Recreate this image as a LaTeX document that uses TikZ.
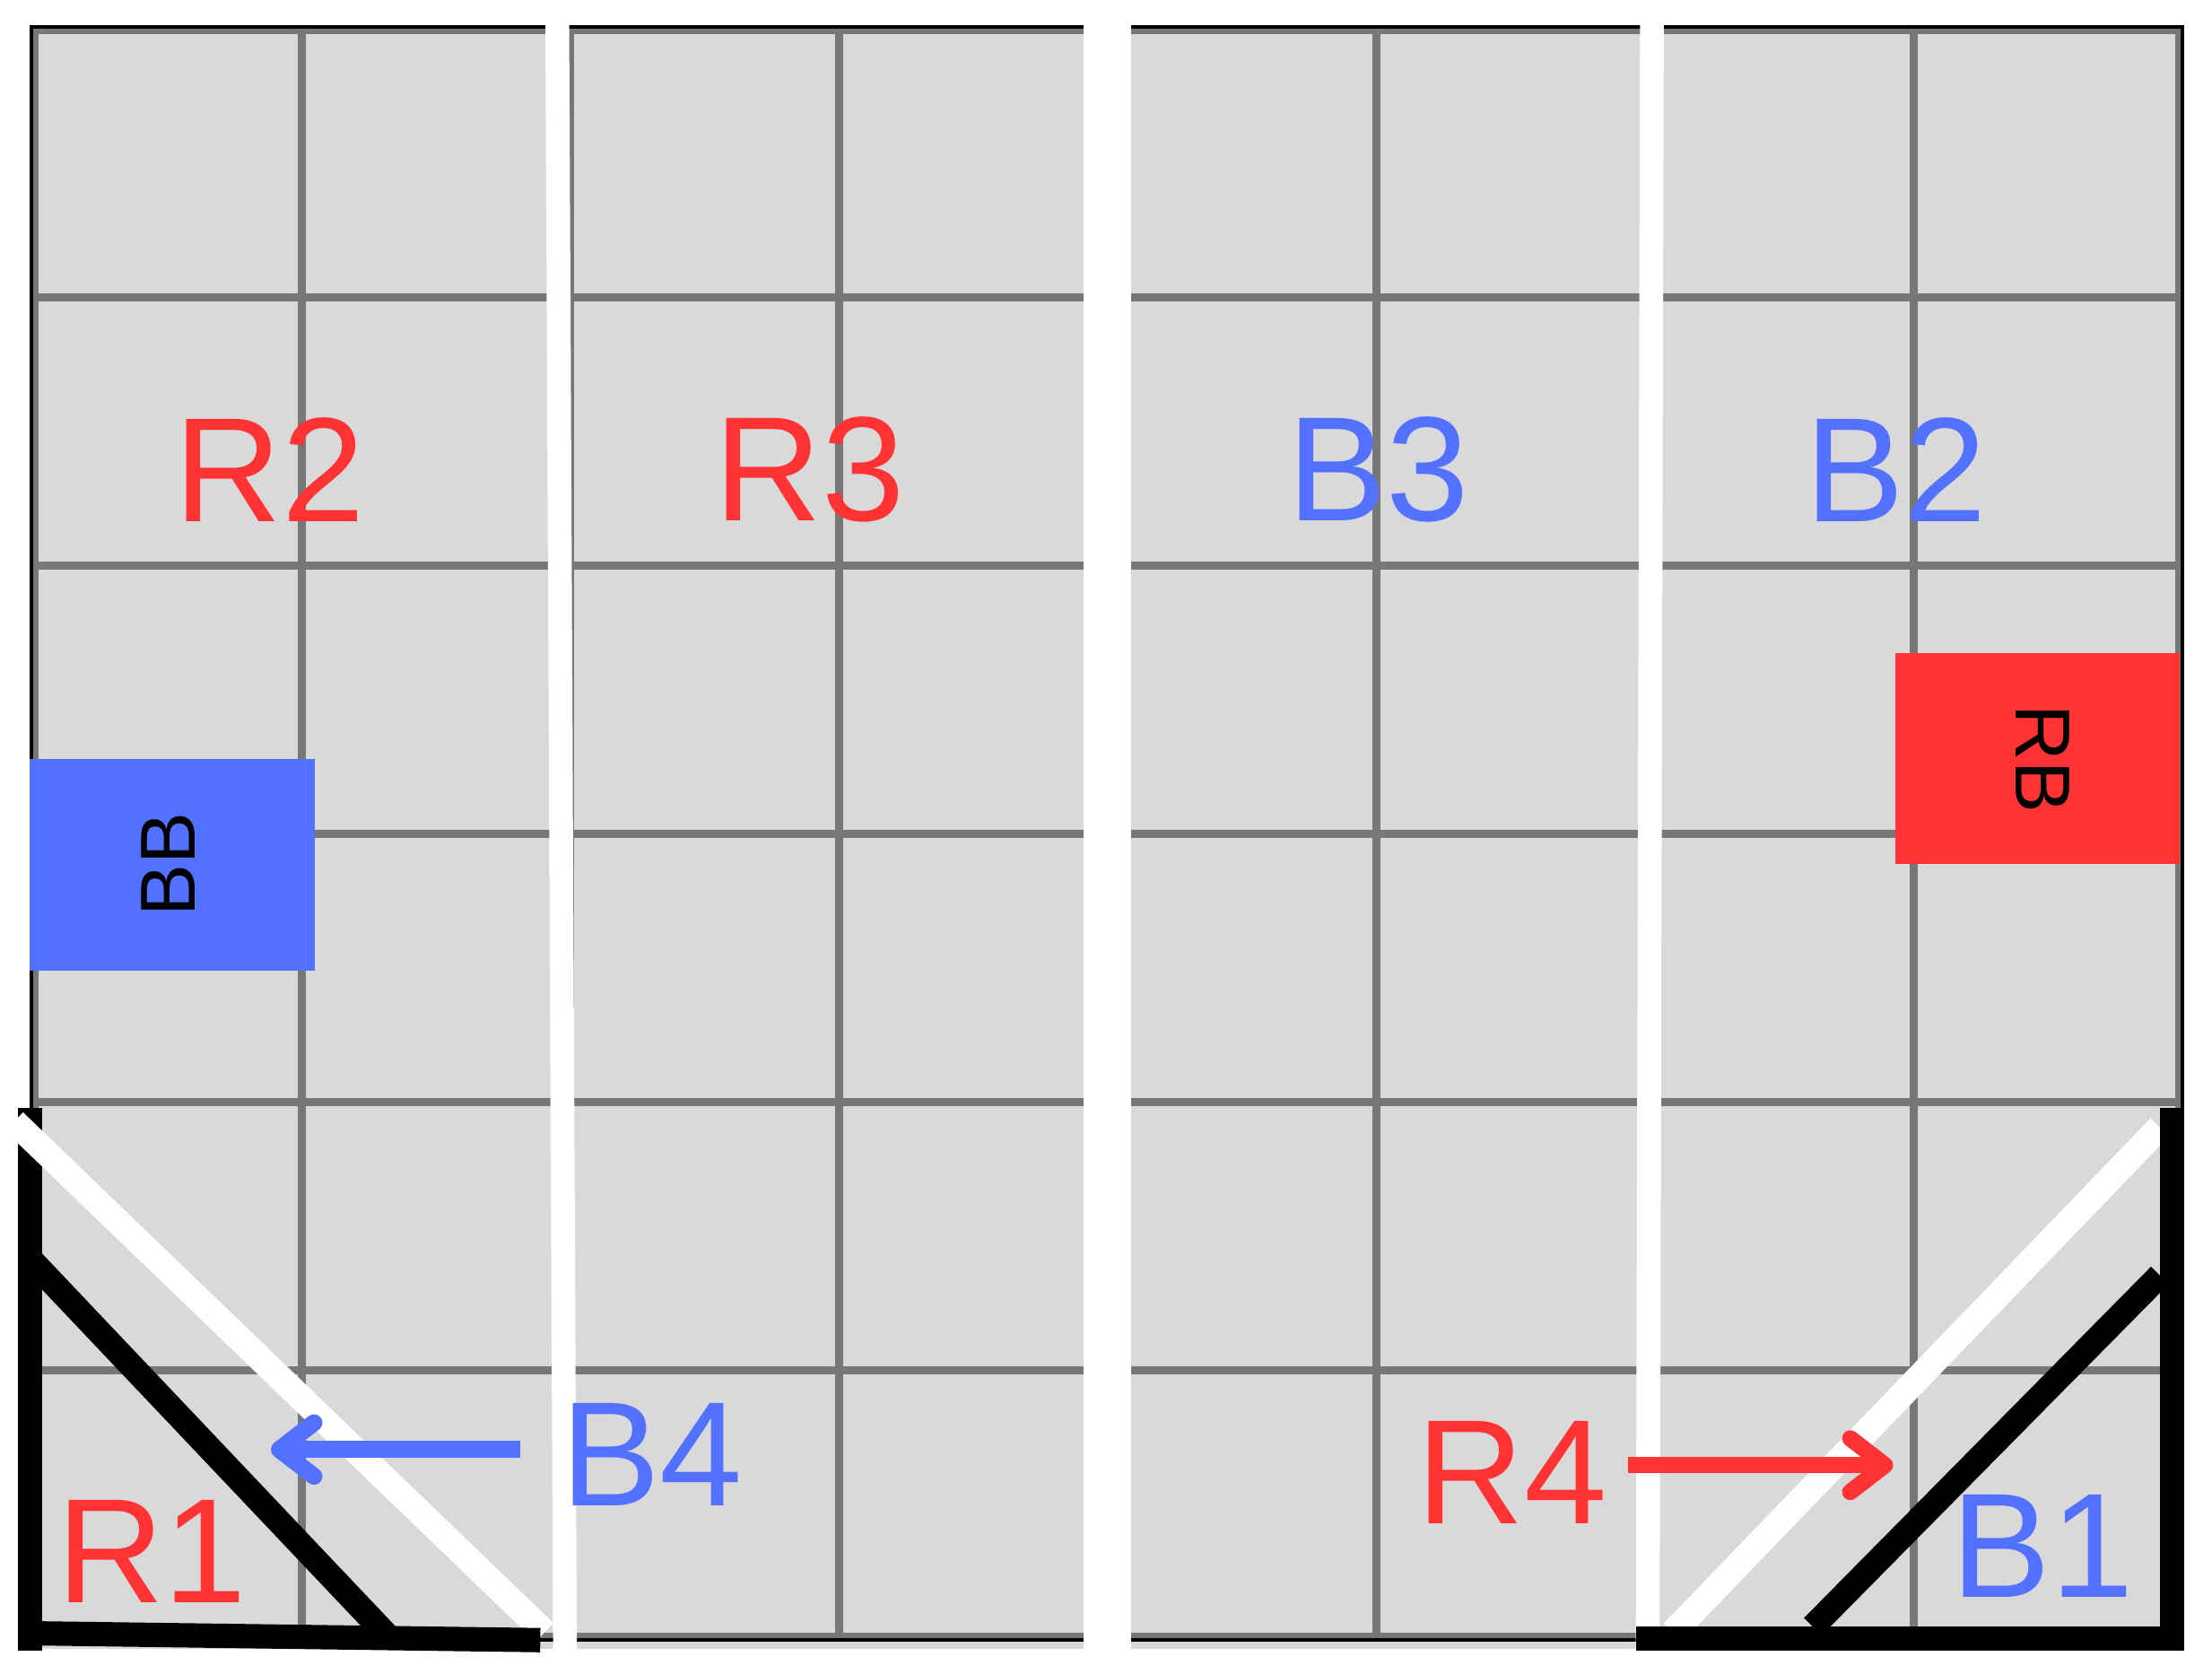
\documentclass[tikz,border=0pt]{standalone}
\usepackage{fontspec}
\setmainfont{Liberation Sans}
\usetikzlibrary{arrows.meta}
\definecolor{fieldgray}{HTML}{D9D9D9}
\definecolor{gridgray}{HTML}{777777}
\definecolor{myred}{HTML}{FF3333}
\definecolor{myblue}{HTML}{5271FF}
\begin{document}
\begin{tikzpicture}[x=0.01cm,y=-0.01cm,
  gridline/.style={draw=gridgray,line width=1.54pt},
  outline/.style={draw=black,line width=0.7pt},
  bigtxt/.style={font=\fontsize{30}{36}\selectfont,inner sep=0pt,anchor=center},
  redtxt/.style={bigtxt,text=myred},
  bluetxt/.style={bigtxt,text=myblue},
  boxnode/.style={draw=none,inner sep=0pt},
  boxtxt/.style={inner sep=0pt,font=\fontsize{15.7}{19}\selectfont,text=black},
  thickblack/.style={draw=black,line width=4.9pt},
  blackdiag/.style={draw=black,line width=5pt},
  whitediag/.style={draw=white,line width=5.2pt},
  whitebar/.style={draw=white,line width=4.8pt},
  gapbar/.style={draw=white,line width=9.6pt},
  tipstyle/.style={-{Straight Barb[length=7pt,width=10.8pt,line cap=round,line join=round]}},
  bluearrow/.style={draw=myblue,line width=3.4pt,tipstyle},
  redarrow/.style={draw=myred,line width=3.3pt,tipstyle}
]
\useasboundingbox (0,0) rectangle (1568,1186);
% field
\fill[fieldgray] (22,19) rectangle (1547,1169);
\foreach \x in {214.1,404.5,594.9,785.3,975.7,1166.1,1356.5} \draw[gridline] (\x,19) -- (\x,1162);
\foreach \y in {210.9,401,591.1,781.2,971.4} \draw[gridline] (22,\y) -- (1547,\y);
\draw[gridline] (24.6,21.6) rectangle (1544.4,1160.2);
\draw[outline] (22,19) rectangle (1547,1162.5);
% white separators
\draw[whitebar] (395,10) -- (400.5,1169);
\draw[gapbar] (785,10) -- (785,1172);
\draw[whitebar] (1171,10) -- (1168,1172);
% boxes
\node[boxnode,fill=myblue,minimum width=2.024cm,minimum height=1.5cm] (BB) at (122,613) {};
\node[boxtxt,rotate=90] (BBt) at (119,612.5) {BB};
\node[boxnode,fill=myred,minimum width=2.018cm,minimum height=1.498cm] (RB) at (1444.2,537.6) {};
\node[boxtxt,rotate=-90] (RBt) at (1448,538) {RB};
% left-bottom corner
\draw[thickblack] (21.2,785) -- (21.2,1170);
\draw[whitediag] (10,795) -- (386,1157);
\draw[thickblack] (13,1157.5) -- (383,1162.5);
\draw[blackdiag] (22,893) -- (278,1163);
% right-bottom corner
\draw[whitediag] (1186,1157) -- (1531,799);
\draw[thickblack] (1539.5,785) -- (1539.5,1170);
\draw[thickblack] (1160,1161.5) -- (1531,1161.5);
\draw[blackdiag] (1285,1153) -- (1531,904);
% labels
\node[redtxt] (R2) at (191,333) {R2};
\node[redtxt] (R3) at (574,333) {R3};
\node[bluetxt] (B3) at (977,333) {B3};
\node[bluetxt] (B2) at (1344,333) {B2};
\node[redtxt] (R1) at (107.6,1099.8) {R1};
\node[bluetxt] (B4) at (462,1031) {B4};
\node[redtxt] (R4) at (1072,1044) {R4};
\node[bluetxt] (B1) at (1448,1096) {B1};
% arrows
\coordinate (b4s) at (369,1027.4);
\coordinate (b4e) at (192,1027.4);
\coordinate (r4s) at (1154,1038.5);
\coordinate (r4e) at (1342,1038.5);
\draw[bluearrow] (b4s) -- (b4e);
\draw[redarrow] (r4s) -- (r4e);
\end{tikzpicture}
\end{document}
